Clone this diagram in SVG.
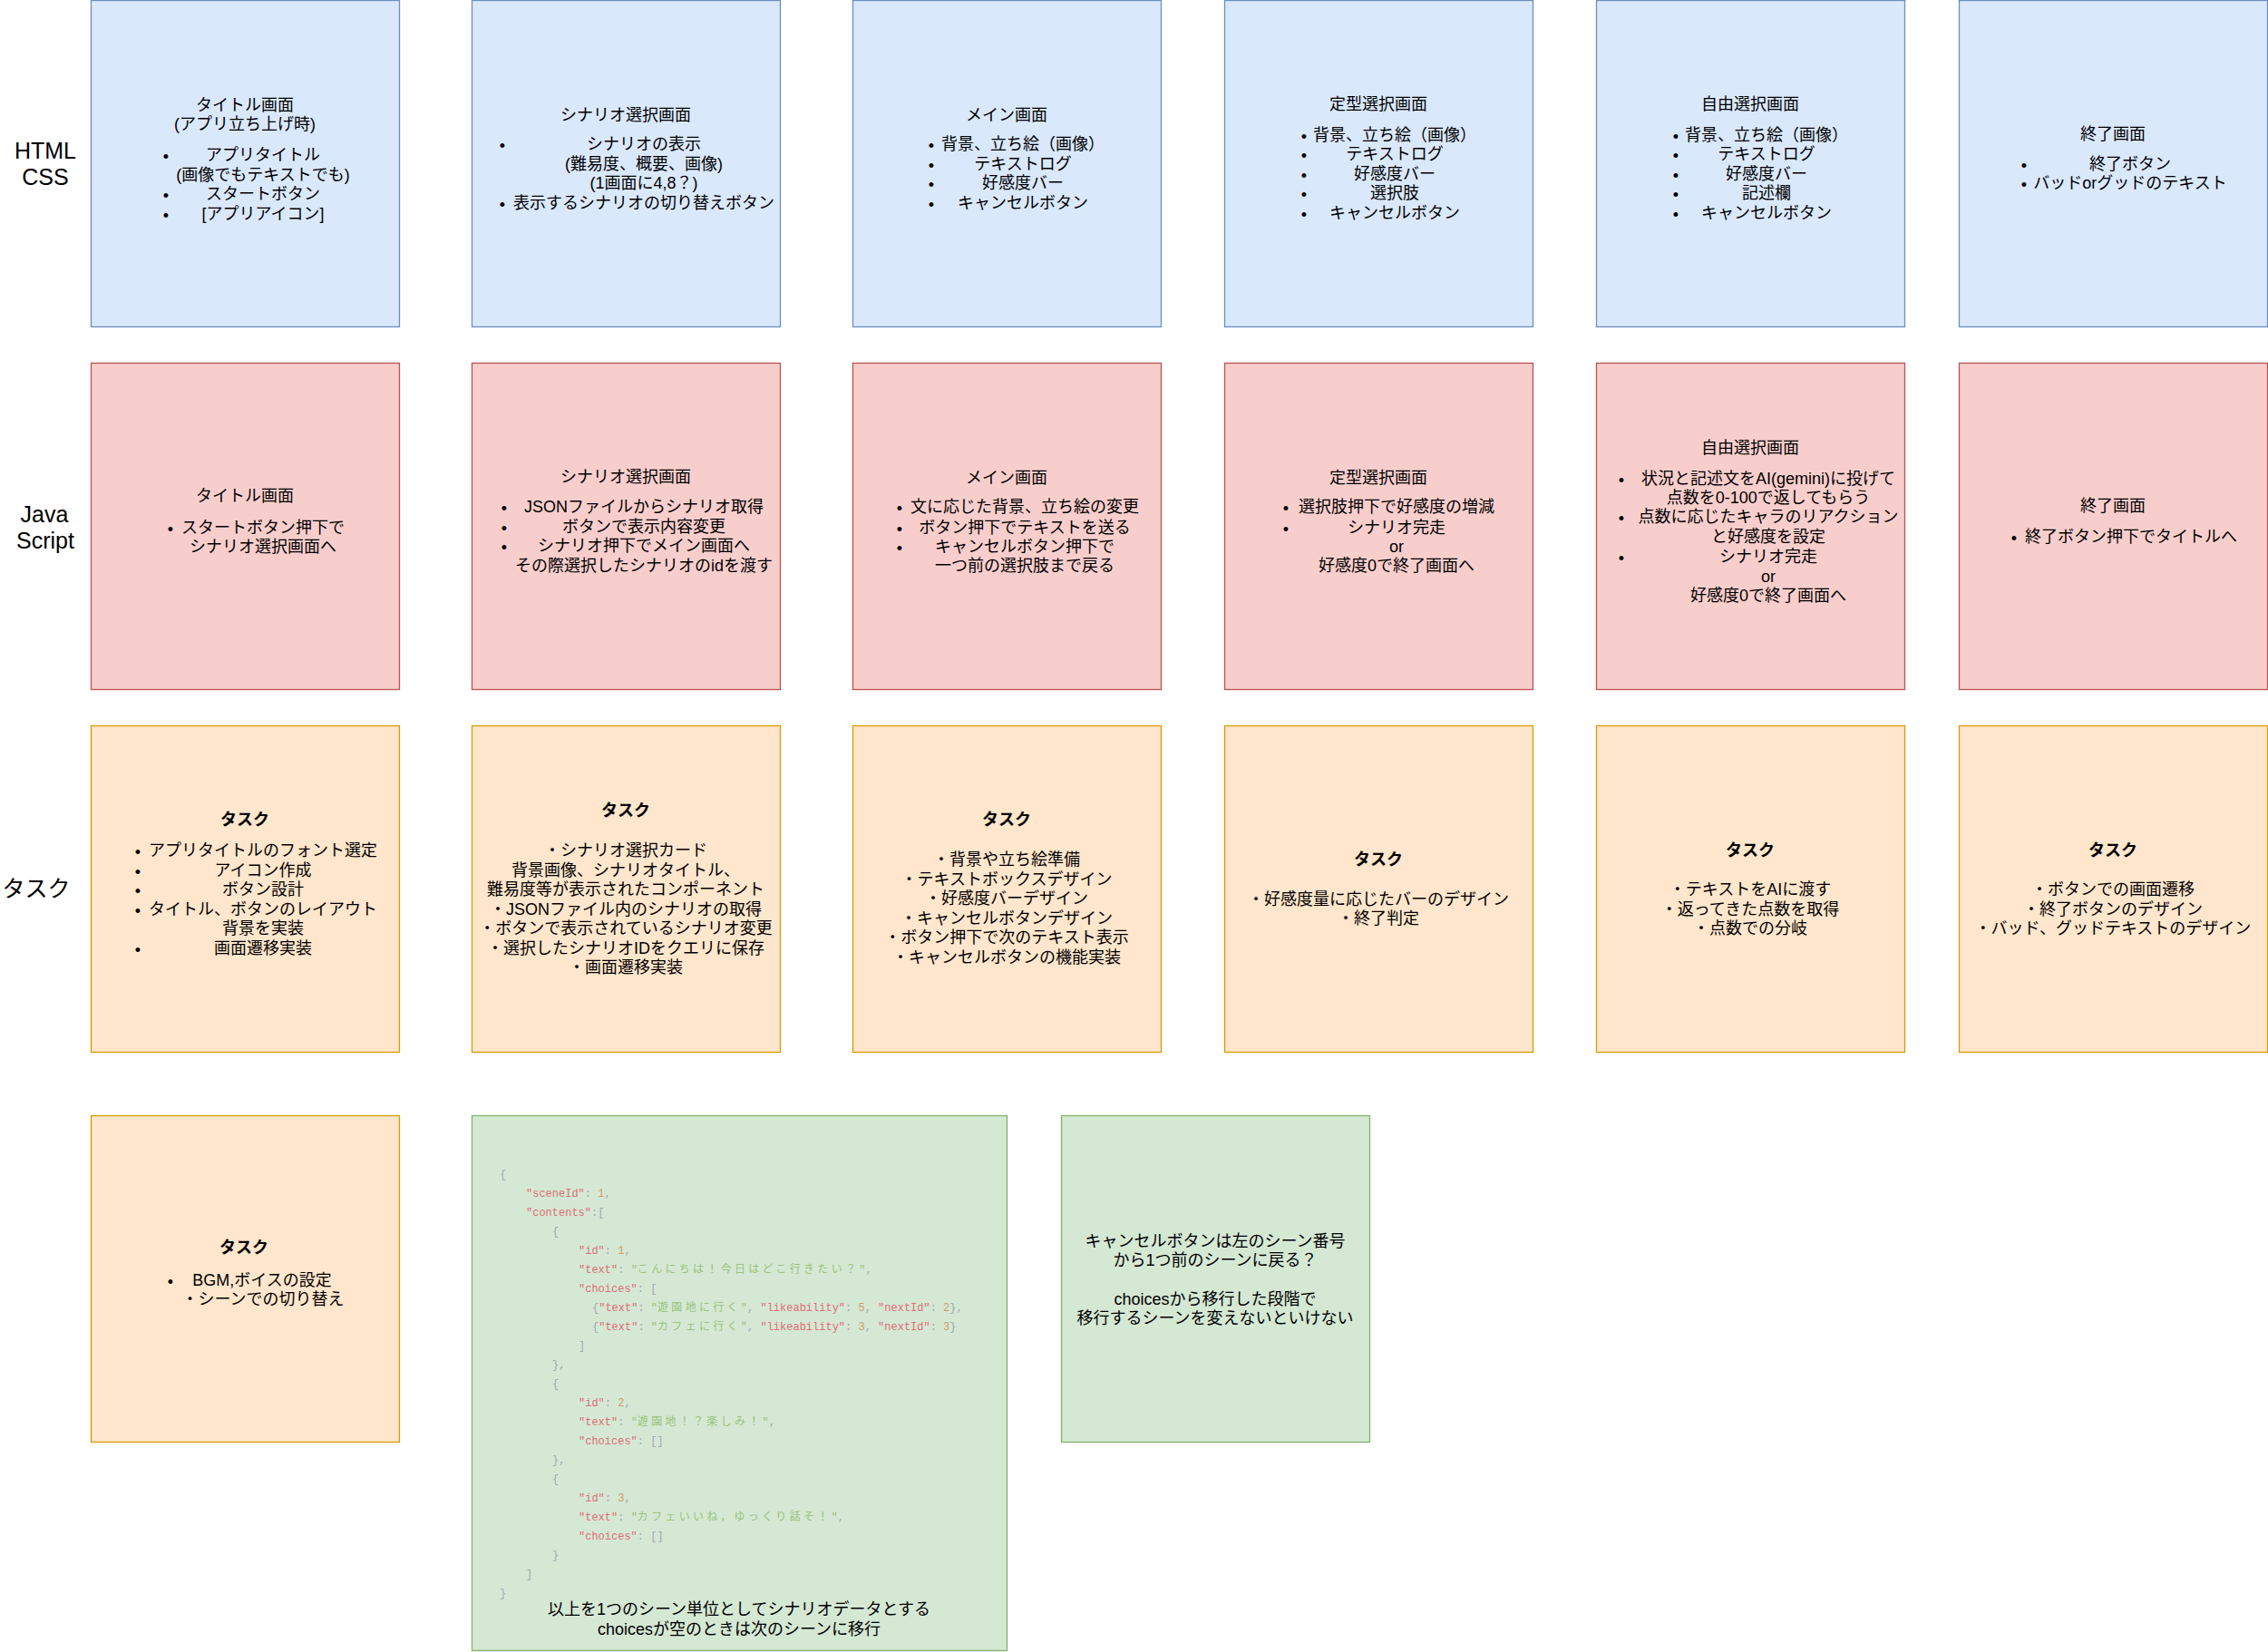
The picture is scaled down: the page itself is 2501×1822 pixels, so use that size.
<svg xmlns="http://www.w3.org/2000/svg" width="2501" height="1822" viewBox="0 0 2501 1822">
<style>
text { font-family: "Liberation Sans", "Noto Sans CJK JP", sans-serif; fill: #000; }
.lbl { font-size: 25px; text-anchor: middle; }
.t { font-size: 18px; text-anchor: middle; }
.bu { font-size: 18px; text-anchor: middle; }
.bold { font-weight: bold; }
.blue { fill: #dae8fc; stroke: #6c8ebf; stroke-width: 1.3; }
.red { fill: #f8cecc; stroke: #b85450; stroke-width: 1.3; }
.orange { fill: #ffe6cc; stroke: #d79b00; stroke-width: 1.3; }
.green { fill: #d5e8d4; stroke: #82b366; stroke-width: 1.3; }
.code { font-family: "Liberation Mono", "DejaVu Sans Mono", "Noto Sans CJK JP", monospace; font-size: 12px; }
.k { fill: #e06c75; }
.n { fill: #d19a66; }
.s { fill: #98c379; }
.p { fill: #a0a7b4; }
.cj { letter-spacing: 3.3px; }
</style>
<rect width="2501" height="1822" fill="#ffffff"/>

<g id="row-labels">
  <text class="lbl" x="50" y="175">HTML</text>
  <text class="lbl" x="50" y="204">CSS</text>
  <text class="lbl" x="49" y="576">Java</text>
  <text class="lbl" x="50" y="605">Script</text>
  <text class="lbl" x="40" y="989">タスク</text>
</g>

<!-- Row 1: HTML/CSS -->
<g id="html-title">
  <rect class="blue" x="100.5" y="0.5" width="340" height="360"/>
  <text class="t" x="270" y="122">タイトル画面</text>
  <text class="t" x="270" y="143">(アプリ立ち上げ時)</text>
  <text class="bu" x="183" y="179">•</text><text class="t" x="290" y="177">アプリタイトル</text>
  <text class="t" x="290" y="199">(画像でもテキストでも)</text>
  <text class="bu" x="183" y="222">•</text><text class="t" x="290" y="220">スタートボタン</text>
  <text class="bu" x="183" y="244">•</text><text class="t" x="290" y="242">[アプリアイコン]</text>
</g>
<g id="html-scenario">
  <rect class="blue" x="520.5" y="0.5" width="340" height="360"/>
  <text class="t" x="690" y="133">シナリオ選択画面</text>
  <text class="bu" x="554" y="167">•</text><text class="t" x="710" y="165">シナリオの表示</text>
  <text class="t" x="710" y="187">(難易度、概要、画像)</text>
  <text class="t" x="710" y="208">(1画面に4,8？)</text>
  <text class="bu" x="554" y="232">•</text><text class="t" x="710" y="230">表示するシナリオの切り替えボタン</text>
</g>
<g id="html-main">
  <rect class="blue" x="940.5" y="0.5" width="340" height="360"/>
  <text class="t" x="1110" y="133">メイン画面</text>
  <text class="bu" x="1027" y="167">•</text><text class="t" x="1128" y="165">背景、立ち絵（画像）</text>
  <text class="bu" x="1027" y="189">•</text><text class="t" x="1128" y="187">テキストログ</text>
  <text class="bu" x="1027" y="210">•</text><text class="t" x="1128" y="208">好感度バー</text>
  <text class="bu" x="1027" y="232">•</text><text class="t" x="1128" y="230">キャンセルボタン</text>
</g>
<g id="html-fixed-choice">
  <rect class="blue" x="1350.5" y="0.5" width="340" height="360"/>
  <text class="t" x="1520" y="121">定型選択画面</text>
  <text class="bu" x="1438" y="157">•</text><text class="t" x="1538" y="155">背景、立ち絵（画像）</text>
  <text class="bu" x="1438" y="178">•</text><text class="t" x="1538" y="176">テキストログ</text>
  <text class="bu" x="1438" y="200">•</text><text class="t" x="1538" y="198">好感度バー</text>
  <text class="bu" x="1438" y="221">•</text><text class="t" x="1538" y="219">選択肢</text>
  <text class="bu" x="1438" y="243">•</text><text class="t" x="1538" y="241">キャンセルボタン</text>
</g>
<g id="html-free-choice">
  <rect class="blue" x="1760.5" y="0.5" width="340" height="360"/>
  <text class="t" x="1930" y="121">自由選択画面</text>
  <text class="bu" x="1848" y="157">•</text><text class="t" x="1948" y="155">背景、立ち絵（画像）</text>
  <text class="bu" x="1848" y="178">•</text><text class="t" x="1948" y="176">テキストログ</text>
  <text class="bu" x="1848" y="200">•</text><text class="t" x="1948" y="198">好感度バー</text>
  <text class="bu" x="1848" y="221">•</text><text class="t" x="1948" y="219">記述欄</text>
  <text class="bu" x="1848" y="243">•</text><text class="t" x="1948" y="241">キャンセルボタン</text>
</g>
<g id="html-end">
  <rect class="blue" x="2160.5" y="0.5" width="340" height="360"/>
  <text class="t" x="2330" y="154">終了画面</text>
  <text class="bu" x="2232" y="189">•</text><text class="t" x="2349" y="187">終了ボタン</text>
  <text class="bu" x="2232" y="210">•</text><text class="t" x="2349" y="208">バッドorグッドのテキスト</text>
</g>

<!-- Row 2: JavaScript -->
<g id="js-title">
  <rect class="red" x="100.5" y="400.5" width="340" height="360"/>
  <text class="t" x="270" y="553">タイトル画面</text>
  <text class="bu" x="188" y="590">•</text><text class="t" x="290" y="588">スタートボタン押下で</text>
  <text class="t" x="290" y="609">シナリオ選択画面へ</text>
</g>
<g id="js-scenario">
  <rect class="red" x="520.5" y="400.5" width="340" height="360"/>
  <text class="t" x="690" y="532">シナリオ選択画面</text>
  <text class="bu" x="556" y="567">•</text><text class="t" x="710" y="565">JSONファイルからシナリオ取得</text>
  <text class="bu" x="556" y="589">•</text><text class="t" x="710" y="587">ボタンで表示内容変更</text>
  <text class="bu" x="556" y="610">•</text><text class="t" x="710" y="608">シナリオ押下でメイン画面へ</text>
  <text class="t" x="710" y="630">その際選択したシナリオのidを渡す</text>
</g>
<g id="js-main">
  <rect class="red" x="940.5" y="400.5" width="340" height="360"/>
  <text class="t" x="1110" y="533">メイン画面</text>
  <text class="bu" x="992" y="567">•</text><text class="t" x="1130" y="565">文に応じた背景、立ち絵の変更</text>
  <text class="bu" x="992" y="590">•</text><text class="t" x="1130" y="588">ボタン押下でテキストを送る</text>
  <text class="bu" x="992" y="611">•</text><text class="t" x="1130" y="609">キャンセルボタン押下で</text>
  <text class="t" x="1130" y="630">一つ前の選択肢まで戻る</text>
</g>
<g id="js-fixed-choice">
  <rect class="red" x="1350.5" y="400.5" width="340" height="360"/>
  <text class="t" x="1520" y="533">定型選択画面</text>
  <text class="bu" x="1418" y="567">•</text><text class="t" x="1540" y="565">選択肢押下で好感度の増減</text>
  <text class="bu" x="1418" y="590">•</text><text class="t" x="1540" y="588">シナリオ完走</text>
  <text class="t" x="1540" y="609">or</text>
  <text class="t" x="1540" y="630">好感度0で終了画面へ</text>
</g>
<g id="js-free-choice">
  <rect class="red" x="1760.5" y="400.5" width="340" height="360"/>
  <text class="t" x="1930" y="500">自由選択画面</text>
  <text class="bu" x="1788" y="536">•</text><text class="t" x="1950" y="534">状況と記述文をAI(gemini)に投げて</text>
  <text class="t" x="1950" y="555">点数を0-100で返してもらう</text>
  <text class="bu" x="1788" y="578">•</text><text class="t" x="1950" y="576">点数に応じたキャラのリアクション</text>
  <text class="t" x="1950" y="598">と好感度を設定</text>
  <text class="bu" x="1788" y="622">•</text><text class="t" x="1950" y="620">シナリオ完走</text>
  <text class="t" x="1950" y="642">or</text>
  <text class="t" x="1950" y="663">好感度0で終了画面へ</text>
</g>
<g id="js-end">
  <rect class="red" x="2160.5" y="400.5" width="340" height="360"/>
  <text class="t" x="2330" y="564">終了画面</text>
  <text class="bu" x="2221" y="600">•</text><text class="t" x="2350" y="598">終了ボタン押下でタイトルへ</text>
</g>

<!-- Row 3: Tasks -->
<g id="task-title">
  <rect class="orange" x="100.5" y="800.5" width="340" height="360"/>
  <text class="t bold" x="270" y="910">タスク</text>
  <text class="bu" x="152" y="946">•</text><text class="t" x="290" y="944">アプリタイトルのフォント選定</text>
  <text class="bu" x="152" y="968">•</text><text class="t" x="290" y="966">アイコン作成</text>
  <text class="bu" x="152" y="989">•</text><text class="t" x="290" y="987">ボタン設計</text>
  <text class="bu" x="152" y="1011">•</text><text class="t" x="290" y="1009">タイトル、ボタンのレイアウト</text>
  <text class="t" x="290" y="1030">背景を実装</text>
  <text class="bu" x="152" y="1054">•</text><text class="t" x="290" y="1052">画面遷移実装</text>
</g>
<g id="task-scenario">
  <rect class="orange" x="520.5" y="800.5" width="340" height="360"/>
  <text class="t bold" x="690" y="900">タスク</text>
  <text class="t" x="690" y="944">・シナリオ選択カード</text>
  <text class="t" x="690" y="966">背景画像、シナリオタイトル、</text>
  <text class="t" x="690" y="987">難易度等が表示されたコンポーネント</text>
  <text class="t" x="690" y="1009">・JSONファイル内のシナリオの取得</text>
  <text class="t" x="690" y="1030">・ボタンで表示されているシナリオ変更</text>
  <text class="t" x="690" y="1052">・選択したシナリオIDをクエリに保存</text>
  <text class="t" x="690" y="1073">・画面遷移実装</text>
</g>
<g id="task-main">
  <rect class="orange" x="940.5" y="800.5" width="340" height="360"/>
  <text class="t bold" x="1110" y="910">タスク</text>
  <text class="t" x="1110" y="954">・背景や立ち絵準備</text>
  <text class="t" x="1110" y="976">・テキストボックスデザイン</text>
  <text class="t" x="1110" y="997">・好感度バーデザイン</text>
  <text class="t" x="1110" y="1019">・キャンセルボタンデザイン</text>
  <text class="t" x="1110" y="1040">・ボタン押下で次のテキスト表示</text>
  <text class="t" x="1110" y="1062">・キャンセルボタンの機能実装</text>
</g>
<g id="task-fixed-choice">
  <rect class="orange" x="1350.5" y="800.5" width="340" height="360"/>
  <text class="t bold" x="1520" y="954">タスク</text>
  <text class="t" x="1520" y="998">・好感度量に応じたバーのデザイン</text>
  <text class="t" x="1520" y="1019">・終了判定</text>
</g>
<g id="task-free-choice">
  <rect class="orange" x="1760.5" y="800.5" width="340" height="360"/>
  <text class="t bold" x="1930" y="944">タスク</text>
  <text class="t" x="1930" y="987">・テキストをAIに渡す</text>
  <text class="t" x="1930" y="1009">・返ってきた点数を取得</text>
  <text class="t" x="1930" y="1030">・点数での分岐</text>
</g>
<g id="task-end">
  <rect class="orange" x="2160.5" y="800.5" width="340" height="360"/>
  <text class="t bold" x="2330" y="944">タスク</text>
  <text class="t" x="2330" y="987">・ボタンでの画面遷移</text>
  <text class="t" x="2330" y="1009">・終了ボタンのデザイン</text>
  <text class="t" x="2330" y="1030">・バッド、グッドテキストのデザイン</text>
</g>

<!-- Row 4 -->
<g id="task-sound">
  <rect class="orange" x="100.5" y="1230.5" width="340" height="360"/>
  <text class="t bold" x="269" y="1382">タスク</text>
  <text class="bu" x="188" y="1420">•</text><text class="t" x="289" y="1418">BGM,ボイスの設定</text>
  <text class="t" x="290" y="1439">・シーンでの切り替え</text>
</g>
<g id="scenario-json">
  <rect class="green" x="520.5" y="1230.5" width="590" height="590"/>
  <text class="code" x="551" y="1298.5"><tspan class="p">{</tspan></text>
  <text class="code" x="580" y="1319.5"><tspan class="k">"sceneId"</tspan><tspan class="p">: </tspan><tspan class="n">1</tspan><tspan class="p">,</tspan></text>
  <text class="code" x="580" y="1340.6"><tspan class="k">"contents"</tspan><tspan class="p">:[</tspan></text>
  <text class="code" x="609" y="1361.6"><tspan class="p">{</tspan></text>
  <text class="code" x="638" y="1382.6"><tspan class="k">"id"</tspan><tspan class="p">: </tspan><tspan class="n">1</tspan><tspan class="p">,</tspan></text>
  <text class="code" x="638" y="1403.7"><tspan class="k">"text"</tspan><tspan class="p">: </tspan><tspan class="s">"</tspan><tspan class="s cj">こんにちは！今日はどこ行きたい？</tspan><tspan class="s">"</tspan><tspan class="p">,</tspan></text>
  <text class="code" x="638" y="1424.7"><tspan class="k">"choices"</tspan><tspan class="p">: [</tspan></text>
  <text class="code" x="653" y="1445.7"><tspan class="p">{</tspan><tspan class="k">"text"</tspan><tspan class="p">: </tspan><tspan class="s">"</tspan><tspan class="s cj">遊園地に行く</tspan><tspan class="s">"</tspan><tspan class="p">, </tspan><tspan class="k">"likeability"</tspan><tspan class="p">: </tspan><tspan class="n">5</tspan><tspan class="p">, </tspan><tspan class="k">"nextId"</tspan><tspan class="p">: </tspan><tspan class="n">2</tspan><tspan class="p">},</tspan></text>
  <text class="code" x="653" y="1466.7"><tspan class="p">{</tspan><tspan class="k">"text"</tspan><tspan class="p">: </tspan><tspan class="s">"</tspan><tspan class="s cj">カフェに行く</tspan><tspan class="s">"</tspan><tspan class="p">, </tspan><tspan class="k">"likeability"</tspan><tspan class="p">: </tspan><tspan class="n">3</tspan><tspan class="p">, </tspan><tspan class="k">"nextId"</tspan><tspan class="p">: </tspan><tspan class="n">3</tspan><tspan class="p">}</tspan></text>
  <text class="code" x="638" y="1487.8"><tspan class="p">]</tspan></text>
  <text class="code" x="609" y="1508.8"><tspan class="p">},</tspan></text>
  <text class="code" x="609" y="1529.8"><tspan class="p">{</tspan></text>
  <text class="code" x="638" y="1550.9"><tspan class="k">"id"</tspan><tspan class="p">: </tspan><tspan class="n">2</tspan><tspan class="p">,</tspan></text>
  <text class="code" x="638" y="1571.9"><tspan class="k">"text"</tspan><tspan class="p">: </tspan><tspan class="s">"</tspan><tspan class="s cj">遊園地！？楽しみ！</tspan><tspan class="s">"</tspan><tspan class="p">,</tspan></text>
  <text class="code" x="638" y="1592.9"><tspan class="k">"choices"</tspan><tspan class="p">: []</tspan></text>
  <text class="code" x="609" y="1614.0"><tspan class="p">},</tspan></text>
  <text class="code" x="609" y="1635.0"><tspan class="p">{</tspan></text>
  <text class="code" x="638" y="1656.0"><tspan class="k">"id"</tspan><tspan class="p">: </tspan><tspan class="n">3</tspan><tspan class="p">,</tspan></text>
  <text class="code" x="638" y="1677.0"><tspan class="k">"text"</tspan><tspan class="p">: </tspan><tspan class="s">"</tspan><tspan class="s cj">カフェいいね，ゆっくり話そ！</tspan><tspan class="s">"</tspan><tspan class="p">,</tspan></text>
  <text class="code" x="638" y="1698.1"><tspan class="k">"choices"</tspan><tspan class="p">: []</tspan></text>
  <text class="code" x="609" y="1719.1"><tspan class="p">}</tspan></text>
  <text class="code" x="580" y="1740.1"><tspan class="p">]</tspan></text>
  <text class="code" x="551" y="1761.2"><tspan class="p">}</tspan></text>
  <text class="t" x="815" y="1781">以上を1つのシーン単位としてシナリオデータとする</text>
  <text class="t" x="815" y="1803">choicesが空のときは次のシーンに移行</text>
</g>
<g id="cancel-note">
  <rect class="green" x="1170.5" y="1230.5" width="340" height="360"/>
  <text class="t" x="1340" y="1375">キャンセルボタンは左のシーン番号</text>
  <text class="t" x="1340" y="1396">から1つ前のシーンに戻る？</text>
  <text class="t" x="1340" y="1439">choicesから移行した段階で</text>
  <text class="t" x="1340" y="1460">移行するシーンを変えないといけない</text>
</g>

<g id="connectors"></g>
</svg>
